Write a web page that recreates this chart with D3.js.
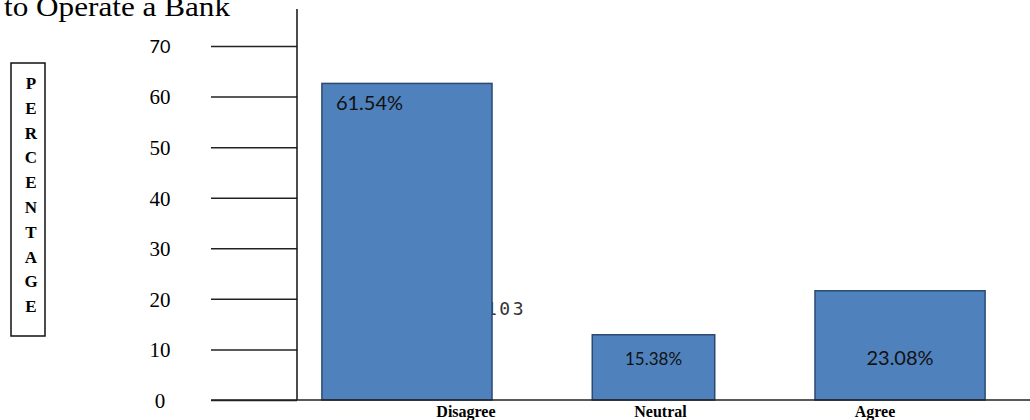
<!DOCTYPE html>
<html>
<head>
<meta charset="utf-8">
<script src="https://cdn.jsdelivr.net/npm/d3@7/dist/d3.min.js"></script>
<style>
  html, body { margin: 0; padding: 0; background: #fff; }
  svg { display: block; }
</style>
</head>
<body>
<svg id="chart" width="1030" height="420"></svg>
<script>
// ---- data ----
const categories = ["Disagree", "Neutral", "Agree"];
const barHeights = [62.6, 12.9, 21.6];           // heights as drawn against the axis
const valueLabels = ["61.54%", "15.38%", "23.08%"];
const tickValues = [0, 10, 20, 30, 40, 50, 60, 70];
const tickLabels = ["0", "10", "20", "30", "40", "50", "60", "70"];
const yTitleLetters = ["P", "E", "R", "C", "E", "N", "T", "A", "G", "E"];
const titleText = "to Operate a Bank";
const strayText = "103";

// ---- layout ----
const svg = d3.select("#chart");
const axisX = 297, baseY = 400;
const serif = "'Liberation Serif', 'Times New Roman', serif";
const sans = "Lato, 'Noto Sans', sans-serif";

const y = d3.scaleLinear().domain([0, 70]).range([baseY, 46]);
const x = d3.scaleBand().domain(categories).range([297, 1010])
  .paddingInner(0.31).paddingOuter(0.101);

// title fragment (cut at the top edge, as in the source)
svg.append("text").attr("x", 4).attr("y", 16)
  .attr("font-family", serif).attr("font-size", 28)
  .attr("textLength", 226).attr("lengthAdjust", "spacingAndGlyphs")
  .attr("fill", "#000").text(titleText);

// y-axis title box
svg.append("rect").attr("x", 11).attr("y", 63).attr("width", 34).attr("height", 273)
  .attr("fill", "none").attr("stroke", "#111").attr("stroke-width", 1.5);
svg.append("g").selectAll("text").data(yTitleLetters).join("text")
  .attr("x", 31).attr("y", (d, i) => 89 + i * 24.8)
  .attr("text-anchor", "middle")
  .attr("font-family", serif).attr("font-weight", "bold").attr("font-size", 17)
  .attr("fill", "#000").text(d => d);

// y axis with long ticks
const yAxis = d3.axisLeft(y).tickValues(tickValues).tickSize(86)
  .tickFormat((d, i) => tickLabels[i]);
const gy = svg.append("g").attr("transform", `translate(${axisX},0)`).call(yAxis);
gy.select(".domain").remove();
gy.selectAll(".tick line").attr("stroke", "#222").attr("stroke-width", 1.5);
gy.selectAll(".tick text")
  .attr("x", -137).attr("text-anchor", "middle").attr("dy", "0.35em")
  .attr("font-family", d => d === 70 ? sans : serif)
  .attr("font-size", d => d === 70 ? 18 : 21)
  .attr("fill", "#000");

// vertical axis line
svg.append("line").attr("x1", axisX).attr("x2", axisX).attr("y1", 9).attr("y2", baseY)
  .attr("stroke", "#111").attr("stroke-width", 1.5);

// stray text partly behind first bar
svg.append("text").attr("x", 486).attr("y", 315)
  .attr("font-family", "'DejaVu Sans Mono', monospace").attr("font-size", 18)
  .attr("letter-spacing", 2.5).attr("fill", "#333").text(strayText);

// bars
const widthRatio = { Neutral: 0.72 };
const barW = c => x.bandwidth() * (widthRatio[c] || 1);
const barX = c => x(c) + (x.bandwidth() - barW(c)) / 2;
svg.append("g").selectAll("rect").data(categories).join("rect")
  .attr("x", c => barX(c))
  .attr("y", (c, i) => y(barHeights[i]))
  .attr("width", c => barW(c))
  .attr("height", (c, i) => baseY - y(barHeights[i]))
  .attr("fill", "#4F81BD").attr("stroke", "#2c4a70").attr("stroke-width", 1.5);

// x baseline
svg.append("line").attr("x1", 211).attr("x2", 1030).attr("y1", baseY).attr("y2", baseY)
  .attr("stroke", "#222").attr("stroke-width", 1.5);

// value labels
svg.append("g").selectAll("text").data(categories).join("text")
  .attr("x", (c, i) => i === 0 ? barX(c) + 14 : barX(c) + barW(c) / 2)
  .attr("y", (c, i) => i === 0 ? y(barHeights[i]) + 27 : baseY - 35)
  .attr("text-anchor", (c, i) => i === 0 ? "start" : "middle")
  .attr("font-family", sans)
  .attr("font-size", c => c === "Neutral" ? 17 : 20)
  .attr("fill", "#111").text((c, i) => valueLabels[i]);

// category labels
const xLabelShift = { Disagree: 59, Neutral: 7, Agree: -25 };
svg.append("g").selectAll("text").data(categories).join("text")
  .attr("x", c => x(c) + x.bandwidth() / 2 + xLabelShift[c])
  .attr("y", 417)
  .attr("text-anchor", "middle")
  .attr("font-family", serif).attr("font-weight", "bold").attr("font-size", 16)
  .attr("fill", "#000").text(c => c);
</script>
</body>
</html>
